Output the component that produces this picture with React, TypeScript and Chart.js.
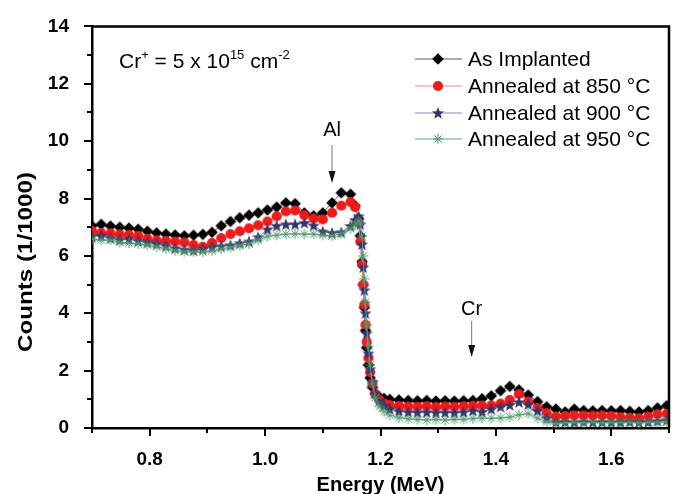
import React, { useEffect, useRef } from "react";
import { Chart, registerables } from "chart.js";

Chart.register(...registerables);

// ---- data ----
const energy = [
  0.700, 0.716, 0.732, 0.748, 0.764, 0.780, 0.796, 0.812, 0.828, 0.844,
  0.860, 0.876, 0.892, 0.908, 0.924, 0.940, 0.956, 0.972, 0.988, 1.004,
  1.020, 1.036, 1.052, 1.068, 1.084, 1.100, 1.116, 1.132, 1.148,
  1.156, 1.162, 1.165, 1.168, 1.170, 1.172, 1.174, 1.176, 1.179, 1.182,
  1.186, 1.191, 1.198, 1.206, 1.216,
  1.232, 1.248, 1.264, 1.280, 1.296, 1.312, 1.328, 1.344, 1.360, 1.376,
  1.392, 1.408, 1.424, 1.440, 1.456, 1.472, 1.488, 1.504, 1.520, 1.536,
  1.552, 1.568, 1.584, 1.600, 1.616, 1.632, 1.648, 1.664, 1.680, 1.696,
];

const asImplanted = [
  7.05, 7.10, 7.04, 7.00, 6.97, 6.93, 6.86, 6.80, 6.76, 6.73,
  6.70, 6.72, 6.75, 6.82, 7.05, 7.20, 7.33, 7.42, 7.50, 7.60,
  7.70, 7.85, 7.82, 7.50, 7.40, 7.50, 7.85, 8.20, 8.15,
  7.75, 7.30, 6.70, 5.80, 5.00, 4.20, 3.40, 2.80, 2.20, 1.75,
  1.42, 1.18, 1.08, 1.03, 1.00,
  0.98, 0.96, 0.95, 0.96, 0.94, 0.95, 0.94, 0.95, 0.96, 1.02,
  1.12, 1.30, 1.45, 1.33, 1.15, 0.92, 0.74, 0.66, 0.56, 0.66,
  0.61, 0.60, 0.61, 0.60, 0.61, 0.58, 0.56, 0.61, 0.70, 0.78,
];

const annealed850 = [
  6.87, 6.80, 6.79, 6.75, 6.73, 6.70, 6.60, 6.54, 6.52, 6.50,
  6.47, 6.38, 6.32, 6.45, 6.62, 6.76, 6.86, 6.96, 7.07, 7.20,
  7.38, 7.55, 7.58, 7.42, 7.30, 7.27, 7.50, 7.75, 7.88,
  7.70, 7.15, 6.50, 5.70, 5.00, 4.30, 3.60, 3.00, 2.45, 1.95,
  1.55, 1.20, 0.98, 0.86, 0.80,
  0.77, 0.75, 0.74, 0.76, 0.73, 0.75, 0.74, 0.76, 0.78, 0.78,
  0.79, 0.85, 0.98, 1.18, 0.92, 0.70, 0.52, 0.40, 0.42, 0.44,
  0.44, 0.43, 0.44, 0.42, 0.38, 0.36, 0.34, 0.40, 0.48, 0.50,
];

const annealed900 = [
  6.68, 6.70, 6.62, 6.56, 6.58, 6.52, 6.47, 6.42, 6.35, 6.27,
  6.22, 6.19, 6.24, 6.30, 6.34, 6.37, 6.44, 6.50, 6.65, 6.92,
  7.05, 7.10, 7.10, 7.15, 7.06, 6.85, 6.80, 6.82, 7.04,
  7.25, 7.38, 7.10, 6.40, 5.60, 4.80, 4.00, 3.30, 2.60, 2.05,
  1.60, 1.20, 0.95, 0.78, 0.66,
  0.58, 0.55, 0.54, 0.55, 0.53, 0.54, 0.53, 0.55, 0.60, 0.56,
  0.66, 0.74, 0.80, 0.90, 0.82, 0.60, 0.34, 0.20, 0.21, 0.20,
  0.22, 0.20, 0.21, 0.20, 0.20, 0.22, 0.20, 0.21, 0.24, 0.27,
];

const annealed950 = [
  6.58, 6.55, 6.55, 6.47, 6.45, 6.42, 6.38, 6.32, 6.25, 6.18,
  6.15, 6.14, 6.14, 6.18, 6.24, 6.30, 6.36, 6.42, 6.55, 6.68,
  6.72, 6.76, 6.77, 6.76, 6.76, 6.72, 6.70, 6.78, 6.95,
  7.10, 7.20, 7.15, 6.70, 6.00, 5.20, 4.40, 3.60, 2.85, 2.20,
  1.55, 1.05, 0.75, 0.58, 0.45,
  0.36, 0.32, 0.30, 0.28, 0.30, 0.28, 0.30, 0.30, 0.33, 0.34,
  0.34, 0.35, 0.38, 0.46, 0.50, 0.34, 0.22, 0.15, 0.18, 0.20,
  0.18, 0.20, 0.18, 0.20, 0.19, 0.20, 0.18, 0.20, 0.20, 0.21,
];

const seriesLabels = [
  "As Implanted",
  "Annealed at 850 °C",
  "Annealed at 900 °C",
  "Annealed at 950 °C",
];

const xTickValues = [0.8, 1.0, 1.2, 1.4, 1.6];
const xMinorTicks = [0.7, 0.9, 1.1, 1.3, 1.5, 1.7];
const yTickValues = [0, 2, 4, 6, 8, 10, 12, 14];
const yMinorTicks = [1, 3, 5, 7, 9, 11, 13];

const xTitle = "Energy (MeV)";
const yTitle = "Counts (1/1000)";
const peakLabels = [
  { text: "Al", energy: 1.116 },
  { text: "Cr", energy: 1.358 },
];

// ---- styles ----
const FONT = '"Liberation Sans", Arial, sans-serif';
const lineColors = ["#5a5a5a", "#f28a78", "#8a8ad0", "#5c9cab"];
const markerKinds = ["diamond", "circle", "star", "asterisk"];

function makeMarker(kind: string): HTMLCanvasElement {
  const s = 16;
  const c = document.createElement("canvas");
  c.width = s;
  c.height = s;
  const g = c.getContext("2d")!;
  const m = s / 2;
  if (kind === "diamond") {
    g.fillStyle = "#000";
    g.beginPath();
    g.moveTo(m, m - 5.8);
    g.lineTo(m + 5.8, m);
    g.lineTo(m, m + 5.8);
    g.lineTo(m - 5.8, m);
    g.closePath();
    g.fill();
  } else if (kind === "circle") {
    g.fillStyle = "#ee1b1b";
    g.beginPath();
    g.arc(m, m, 5.1, 0, Math.PI * 2);
    g.fill();
  } else if (kind === "star") {
    g.fillStyle = "#34346c";
    g.beginPath();
    for (let i = 0; i < 10; i++) {
      const r = i % 2 === 0 ? 6.4 : 2.7;
      const a = -Math.PI / 2 + (i * Math.PI) / 5;
      const px = m + r * Math.cos(a);
      const py = m + 0.5 + r * Math.sin(a);
      if (i === 0) g.moveTo(px, py);
      else g.lineTo(px, py);
    }
    g.closePath();
    g.fill();
  } else {
    g.strokeStyle = "#4f9a62";
    g.lineWidth = 1;
    for (let i = 0; i < 4; i++) {
      const a = (i * Math.PI) / 4;
      g.beginPath();
      g.moveTo(m - 5.2 * Math.cos(a), m - 5.2 * Math.sin(a));
      g.lineTo(m + 5.2 * Math.cos(a), m + 5.2 * Math.sin(a));
      g.stroke();
    }
  }
  return c;
}

function drawSupText(
  ctx: CanvasRenderingContext2D,
  parts: { t: string; sup?: boolean }[],
  x: number,
  y: number,
  size: number
) {
  let cx = x;
  for (const p of parts) {
    const fs = p.sup ? Math.round(size * 0.62) : size;
    ctx.font = `${fs}px ${FONT}`;
    ctx.fillText(p.t, cx, p.sup ? y - size * 0.42 : y);
    cx += ctx.measureText(p.t).width;
  }
}

function drawArrow(ctx: CanvasRenderingContext2D, x: number, y0: number, y1: number) {
  ctx.strokeStyle = "#777";
  ctx.lineWidth = 1;
  ctx.beginPath();
  ctx.moveTo(x, y0);
  ctx.lineTo(x, y1 - 10);
  ctx.stroke();
  ctx.fillStyle = "#111";
  ctx.beginPath();
  ctx.moveTo(x - 3.5, y1 - 12);
  ctx.lineTo(x + 3.5, y1 - 12);
  ctx.lineTo(x, y1);
  ctx.closePath();
  ctx.fill();
}

export default function App() {
  const ref = useRef<HTMLCanvasElement | null>(null);

  useEffect(() => {
    if (!ref.current) return;
    const markers = markerKinds.map(makeMarker);
    const series = [asImplanted, annealed850, annealed900, annealed950];

    const overlay = {
      id: "overlay",
      afterDraw(chart: any) {
        const { ctx, chartArea: a, scales } = chart;
        const xs = scales.x;
        const ys = scales.y;
        ctx.save();
        // frame top & right
        ctx.strokeStyle = "#000";
        ctx.lineWidth = 2.5;
        ctx.beginPath();
        ctx.moveTo(a.left, a.top);
        ctx.lineTo(a.right, a.top);
        ctx.lineTo(a.right, a.bottom);
        ctx.stroke();
        // ticks
        ctx.lineWidth = 2;
        ctx.beginPath();
        for (const v of yTickValues) {
          const p = Math.round(ys.getPixelForValue(v));
          ctx.moveTo(a.left - 8, p);
          ctx.lineTo(a.left, p);
        }
        for (const v of yMinorTicks) {
          const p = Math.round(ys.getPixelForValue(v));
          ctx.moveTo(a.left - 5, p);
          ctx.lineTo(a.left, p);
        }
        for (const v of xTickValues) {
          const p = Math.round(xs.getPixelForValue(v));
          ctx.moveTo(p, a.bottom);
          ctx.lineTo(p, a.bottom + 8);
        }
        for (const v of xMinorTicks) {
          const p = Math.round(xs.getPixelForValue(v));
          ctx.moveTo(p, a.bottom);
          ctx.lineTo(p, a.bottom + 5);
        }
        ctx.stroke();

        // axis titles
        ctx.fillStyle = "#000";
        ctx.font = `bold 20px ${FONT}`;
        ctx.textAlign = "center";
        ctx.textBaseline = "alphabetic";
        ctx.fillText(xTitle, (a.left + a.right) / 2, 491);
        ctx.save();
        ctx.font = `bold 21px ${FONT}`;
        const tw = ctx.measureText(yTitle).width;
        ctx.translate(32, 262);
        ctx.rotate(-Math.PI / 2);
        ctx.scale(180 / tw, 1);
        ctx.fillText(yTitle, 0, 0);
        ctx.restore();

        // dose annotation
        ctx.textAlign = "left";
        ctx.fillStyle = "#000";
        drawSupText(
          ctx,
          [
            { t: "Cr" },
            { t: "+", sup: true },
            { t: " = 5 x 10" },
            { t: "15", sup: true },
            { t: " cm" },
            { t: "-2", sup: true },
          ],
          119,
          68,
          21
        );

        // peak labels with arrows
        ctx.textAlign = "center";
        ctx.font = `20px ${FONT}`;
        const al = peakLabels[0];
        const alx = xs.getPixelForValue(al.energy);
        ctx.fillStyle = "#000";
        ctx.fillText(al.text, alx, 136);
        drawArrow(ctx, alx, 145, 183);
        const cr = peakLabels[1];
        const crx = xs.getPixelForValue(cr.energy);
        ctx.fillStyle = "#000";
        ctx.fillText(cr.text, crx, 315);
        drawArrow(ctx, crx, 321, 357);

        // legend
        ctx.textAlign = "left";
        ctx.textBaseline = "middle";
        ctx.font = `21px ${FONT}`;
        const rows = [59, 86, 113, 139];
        seriesLabels.forEach((lab, i) => {
          const yy = rows[i];
          ctx.strokeStyle = lineColors[i];
          ctx.lineWidth = 1.2;
          ctx.beginPath();
          ctx.moveTo(415, yy);
          ctx.lineTo(462, yy);
          ctx.stroke();
          const mk = markers[i];
          ctx.drawImage(mk, 438 - mk.width / 2, yy - mk.height / 2);
          ctx.fillStyle = "#000";
          ctx.fillText(lab, 468, yy + 1);
        });
        ctx.restore();
      },
    };

    const chart = new Chart(ref.current, {
      type: "line",
      data: {
        datasets: series.map((vals, i) => ({
          label: seriesLabels[i],
          data: energy.map((e, k) => ({ x: e, y: vals[k] })),
          borderColor: lineColors[i],
          borderWidth: 1,
          pointStyle: markers[i] as any,
          pointRadius: 5,
          backgroundColor: lineColors[i],
          tension: 0,
          order: 4 - i,
        })),
      },
      options: {
        animation: false,
        responsive: false,
        devicePixelRatio: 1,
        events: [],
        layout: { padding: { top: 18, right: 5, left: 0, bottom: 0 } },
        plugins: {
          legend: { display: false },
          tooltip: { enabled: false },
          title: { display: false },
        },
        scales: {
          x: {
            type: "linear",
            min: 0.7,
            max: 1.7,
            grid: { display: false },
            border: { display: true, color: "#000", width: 2.5 },
            afterFit(scale: any) {
              scale.height = 66;
            },
            afterBuildTicks(scale: any) {
              scale.ticks = xTickValues.map((v) => ({ value: v }));
            },
            ticks: {
              padding: 12,
              color: "#000",
              font: { family: FONT, size: 19, weight: "bold" },
              callback: (v: any) => Number(v).toFixed(1),
              maxRotation: 0,
              autoSkip: false,
            },
          },
          y: {
            type: "linear",
            min: 0,
            max: 14,
            grid: { display: false },
            border: { display: true, color: "#000", width: 2.5 },
            afterFit(scale: any) {
              scale.width = 92;
            },
            afterBuildTicks(scale: any) {
              scale.ticks = yTickValues.map((v) => ({ value: v }));
            },
            ticks: {
              padding: 15,
              color: "#000",
              font: { family: FONT, size: 19, weight: "bold" },
              callback: (v: any) => String(v),
              autoSkip: false,
            },
          },
        },
      },
      plugins: [overlay],
    });

    return () => chart.destroy();
  }, []);

  return (
    <div style={{ position: "fixed", left: 0, top: 0, width: 675, height: 494, background: "#fff" }}>
      <canvas ref={ref} width={675} height={494} style={{ width: 675, height: 494, display: "block" }} />
    </div>
  );
}
